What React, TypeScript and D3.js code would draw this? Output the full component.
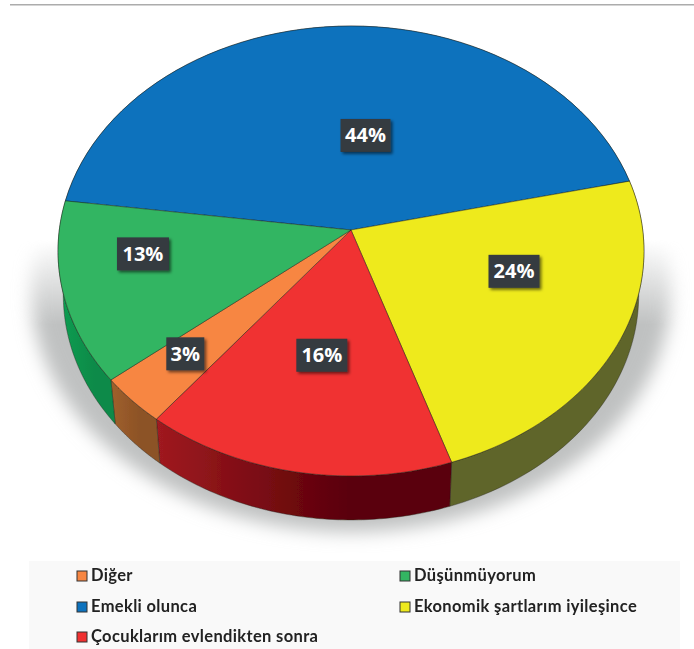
import React from "react";
import * as d3 from "d3";

const categories = ["Emekli olunca", "Ekonomik şartlarım iyileşince", "Çocuklarım evlendikten sonra", "Diğer", "Düşünmüyorum"];
const shares = [44.3, 23.5, 15.7, 3.49, 13.01];
const topColors = ["#0d72bd", "#eeea1d", "#f03030", "#f78642", "#33b562"];
const sideFrom = ["#0a5a96", "#5f652a", "#a01a20", "#a0602c", "#0c9a50"];
const sideTo = ["#0a5a96", "#5f652a", "#5a0008", "#8c5226", "#0b8a48"];
const legendOrder = ["Diğer", "Düşünmüyorum", "Emekli olunca", "Ekonomik şartlarım iyileşince", "Çocuklarım evlendikten sonra"];

// layout
const W = 694, H = 649;
const CX = 351, CY = 230, A = 291.7, B = 223, K = 0.0933;
const DEPTH = 44, WALL_SHRINK = 0.982;
const START_DEG = -82.4;
const labelNudge = [[21.6, 22], [19.6, -20.4], [0, -2], [-49, 33], [-51.5, -10]];
const boxW = [50, 51, 51, 38, 52];

const project = (angle: number, r: number): [number, number] => {
  const u = Math.sin(angle) * r, v = -Math.cos(angle) * r, d = 1 - K * v;
  return [CX + (A * u) / d, CY + (B * v) / d];
};
const line = d3.line();

const pie = d3.pie<number>().sort(null)
  .startAngle((START_DEG * Math.PI) / 180)
  .endAngle((START_DEG * Math.PI) / 180 + 2 * Math.PI);
const arcs = pie(shares);

const rim = (a0: number, a1: number) =>
  d3.range(0, 61).map((i) => project(a0 + ((a1 - a0) * i) / 60, 1));
const lower = ([x, y]: [number, number]): [number, number] => [CX + (x - CX) * WALL_SHRINK, y + DEPTH];

const legendX = [77, 400];
const legendY = [576, 607, 637];

export default function App() {
  return (
    <svg width={W} height={H} style={{ position: "absolute", left: 0, top: 0, display: "block" }}>
      <defs>
        <filter id="blur" x="-20%" y="-20%" width="140%" height="140%">
          <feGaussianBlur stdDeviation="9" />
        </filter>
        <filter id="boxShadow" x="-30%" y="-30%" width="170%" height="170%">
          <feDropShadow dx="2" dy="2" stdDeviation="1.6" floodColor="#000" floodOpacity="0.55" />
        </filter>
        <filter id="soft" x="-5%" y="-5%" width="110%" height="110%">
          <feGaussianBlur stdDeviation="0.35" />
        </filter>
        <filter id="softText" x="-5%" y="-20%" width="110%" height="140%">
          <feGaussianBlur stdDeviation="0.3" />
        </filter>
        <linearGradient id="fade" x1="0" y1="0" x2="0" y2="1" gradientUnits="objectBoundingBox">
          <stop offset="0" stopColor="#000" />
          <stop offset="0.37" stopColor="#000" />
          <stop offset="0.5" stopColor="#fff" />
          <stop offset="1" stopColor="#fff" />
        </linearGradient>
        <mask id="shadowMask" maskUnits="userSpaceOnUse" x="0" y="0" width={W} height={H}>
          <rect x="0" y="0" width={W} height={H} fill="url(#fade)" />
        </mask>
        {arcs.map((a, i) => (
          <linearGradient key={i} id={`side${i}`} gradientUnits="userSpaceOnUse"
            x1={project(a.endAngle, 1)[0]} y1="0" x2={project(a.startAngle, 1)[0]} y2="0">
            <stop offset="0" stopColor={sideFrom[i]} />
            <stop offset="0.65" stopColor={sideTo[i]} />
            <stop offset="1" stopColor={sideTo[i]} />
          </linearGradient>
        ))}
      </defs>

      <rect x="10" y="4" width={W - 10} height="1.5" fill="#acacac" />

      <g mask="url(#shadowMask)">
        <ellipse cx={CX} cy="290" rx="320" ry="242" fill="#bfc1c1" filter="url(#blur)" />
      </g>

      <g filter="url(#soft)">
        {arcs.map((a, i) => {
          const top = rim(a.startAngle, a.endAngle);
          const bottom = top.map(lower).reverse();
          return (
            <path key={i} d={line([...top, ...bottom])! + "Z"} fill={`url(#side${i})`} stroke="#2a2a20" strokeWidth="0.6" strokeOpacity="0.7" />
          );
        })}
        {arcs.map((a, i) => {
          const pts = [[CX, CY] as [number, number], ...rim(a.startAngle, a.endAngle)];
          return <path key={i} d={line(pts)! + "Z"} fill={topColors[i]} stroke="#1c1c14" strokeWidth="0.6" strokeOpacity="0.75" strokeLinejoin="round" />;
        })}
      </g>

      {arcs.map((a, i) => {
        const [mx, my] = project((a.startAngle + a.endAngle) / 2, 0.55);
        const x = mx + labelNudge[i][0], y = my + labelNudge[i][1];
        const w = boxW[i], h = 33;
        return (
          <g key={i}>
            <rect x={x - w / 2} y={y - h / 2} width={w} height={h} fill="#343a40" filter="url(#boxShadow)" />
            <text x={x} y={y + 7} textAnchor="middle" fill="#fff" fontFamily="'Open Sans', sans-serif" fontWeight="700" fontSize="20">
              {Math.round(shares[i])}%
            </text>
          </g>
        );
      })}

      <rect x="29" y="561" width="651" height="88" fill="#f9f9f9" />
      {legendOrder.map((name, i) => {
        const k = categories.indexOf(name);
        const x = legendX[i % 2], y = legendY[Math.floor(i / 2)];
        return (
          <g key={name}>
            <rect x={x} y={y - 5} width="10" height="10" fill={topColors[k]} stroke="#333" strokeWidth="1" />
            <text x={x + 14} y={y + 5} fontFamily="Lato, sans-serif" fontWeight="700" fontSize="16.5" letterSpacing="0.35" fill="#222" filter="url(#softText)">{name}</text>
          </g>
        );
      })}
    </svg>
  );
}
